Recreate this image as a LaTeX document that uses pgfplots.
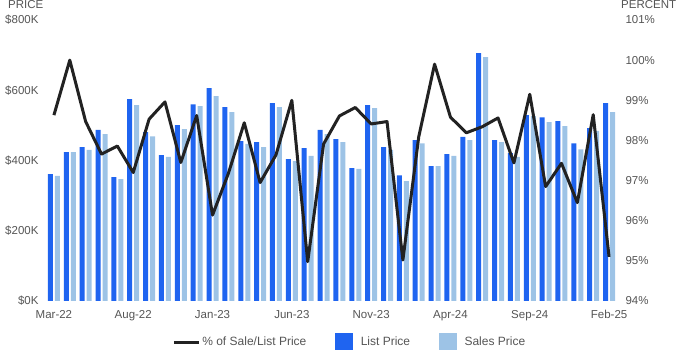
\documentclass[border=0pt]{standalone}
\usepackage{fontspec}
\setmainfont{Liberation Sans}
\usepackage{pgfplots}
\usepackage{pgfplotstable}
\pgfplotsset{compat=1.18}
\definecolor{listblue}{RGB}{31,100,240}
\definecolor{salesblue}{RGB}{157,195,230}
\definecolor{lineblk}{RGB}{34,34,34}
\definecolor{txtgrey}{RGB}{85,85,85}

\pgfplotstableread{
x list sales pct
0 361 356 98.63
1 424 424 100.0
2 438 430 98.47
3 487 475 97.66
4 353 347 97.86
5 575 558 97.20
6 481 469 98.53
7 415 410 98.96
8 501 489 97.45
9 560 555 98.62
10 606 583 96.14
11 552 538 97.18
12 455 447 98.44
13 452 438 96.95
14 563 552 97.64
15 404 398 99.00
16 435 413 94.98
17 487 475 97.91
18 461 452 98.61
19 378 376 98.82
20 558 549 98.41
21 438 430 98.47
22 358 341 95.02
23 458 449 98.09
24 384 384 99.90
25 418 413 98.58
26 467 458 98.19
27 706 694 98.34
28 458 452 98.56
29 421 410 97.44
30 529 526 99.15
31 523 509 96.85
32 512 498 97.43
33 449 432 96.45
34 492 484 98.64
35 563 538 95.10
}\datatable

\begin{document}
\begin{tikzpicture}
\useasboundingbox (0,0) rectangle (700pt,350pt);
\pgfplotsset{
  common/.style={
    at={(46pt,49pt)}, anchor=south west,
    scale only axis, width=571pt, height=281pt,
    xmin=-0.5, xmax=35.5,
    axis line style={draw=none},
    tick style={draw=none},
    major tick length=0pt,
    /pgf/number format/assume math mode=true,
    tick label style={font=\fontsize{11.5}{13}\selectfont, text=txtgrey},
  }
}
\begin{axis}[common,
  ymin=0, ymax=800,
  ytick={0,200,400,600,800},
  yticklabels={\$0K,\$200K,\$400K,\$600K,\$800K},
  xtick={0,5,10,15,20,25,30,35},
  xticklabels={Mar-22,Aug-22,Jan-23,Jun-23,Nov-23,Apr-24,Sep-24,Feb-25},
  yticklabel style={anchor=east, xshift=-4pt},
  xticklabel style={anchor=north, yshift=-6pt},
]
\addplot[ybar, bar width=5pt, bar shift=-3.5pt, fill=listblue, draw=none] table[x=x,y=list]{\datatable};
\addplot[ybar, bar width=5pt, bar shift=3.5pt, fill=salesblue, draw=none] table[x=x,y=sales]{\datatable};
\end{axis}
\begin{axis}[common,
  ymin=94, ymax=101,
  ytick={94,95,...,101},
  yticklabel={\pgfmathprintnumber{\tick}\%},
  axis y line*=right,
  axis x line=none,
  yticklabel style={anchor=west, xshift=5pt},
  legend style={at={(axis description cs:0.532,-0.146)}, anchor=center, draw=none,
    fill=none, legend columns=3,
    font=\fontsize{12}{14}\selectfont, text=txtgrey,
    /tikz/every even column/.append style={column sep=27pt}},
]
\addplot[lineblk, line width=3pt, line join=round, mark=none,
  legend image code/.code={\draw[lineblk, line width=3pt] (0pt,0pt) -- (25pt,0pt);}]
  table[x=x,y=pct]{\datatable};
\addlegendentry{\% of Sale/List Price}
\addlegendimage{legend image code/.code={\fill[listblue] (0pt,-8.5pt) rectangle (17pt,8.5pt);}}
\addlegendentry{\hspace{6pt}List Price}
\addlegendimage{legend image code/.code={\fill[salesblue] (0pt,-8.5pt) rectangle (17pt,8.5pt);}}
\addlegendentry{\hspace{6pt}Sales Price}
\end{axis}
\node[anchor=base west, inner sep=0, text=txtgrey, font=\fontsize{11.5}{13}\selectfont] at (8pt,341pt) {PRICE};
\node[anchor=base west, inner sep=0, text=txtgrey, font=\fontsize{11.5}{13}\selectfont] at (621pt,341pt) {PERCENT};
\end{tikzpicture}
\end{document}
